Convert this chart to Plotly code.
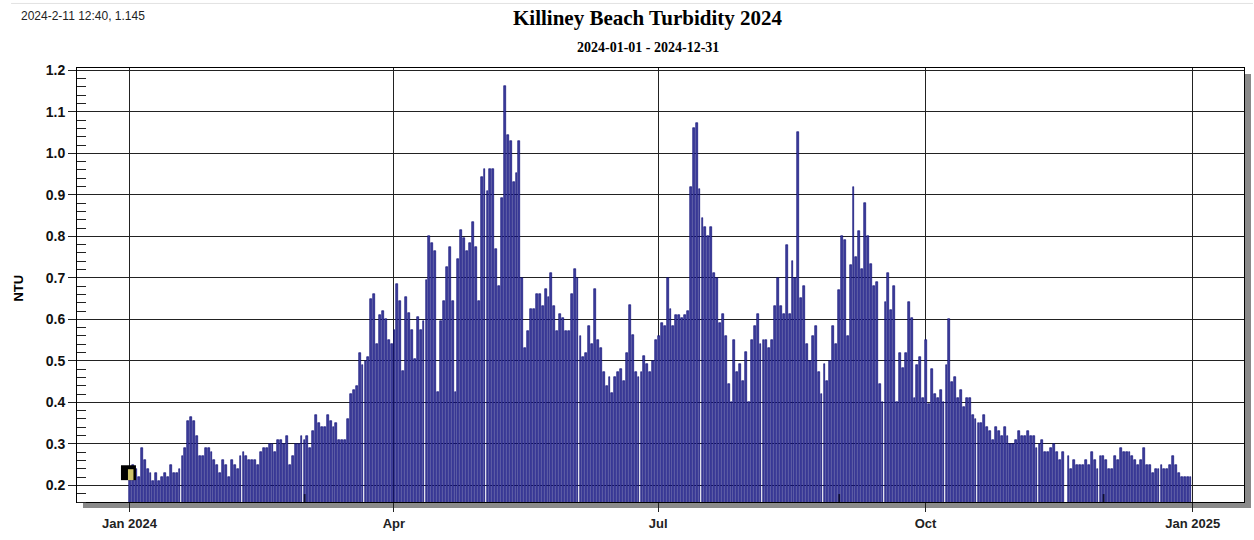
import pandas as pd
import plotly.graph_objects as go

# Daily turbidity (NTU), 2024, one list per month
jan = [0.24, 0.25, 0.24, 0.22, 0.29, 0.26, 0.24, 0.23, 0.21, 0.23, 0.21, 0.22, 0.23, 0.22, 0.25, 0.23,
       0.23, 0.24, 0.27, 0.29, 0.355, 0.365, 0.355, 0.32, 0.27, 0.27, 0.29, 0.29, 0.28, 0.26, 0.25]
feb = [0.23, 0.26, 0.25, 0.22, 0.26, 0.25, 0.24, 0.27, 0.28, 0.27, 0.26, 0.26, 0.26, 0.25, 0.28, 0.29,
       0.29, 0.30, 0.30, 0.28, 0.31, 0.31, 0.30, 0.32, 0.25, 0.27, 0.30, 0.30, 0.32]
mar = [0.31, 0.32, 0.29, 0.33, 0.37, 0.35, 0.34, 0.34, 0.37, 0.355, 0.34, 0.35, 0.31, 0.31, 0.31, 0.36,
       0.42, 0.43, 0.44, 0.52, 0.49, 0.50, 0.51, 0.65, 0.66, 0.54, 0.61, 0.62, 0.60, 0.55, 0.54]
apr = [0.575, 0.685, 0.645, 0.475, 0.655, 0.615, 0.575, 0.505, 0.605, 0.575, 0.595, 0.695, 0.80, 0.785,
       0.765, 0.425, 0.595, 0.645, 0.725, 0.775, 0.645, 0.425, 0.745, 0.815, 0.795, 0.765, 0.785, 0.835,
       0.775, 0.645]
may = [0.942, 0.962, 0.91, 0.962, 0.962, 0.77, 0.68, 0.892, 1.163, 1.043, 1.03, 0.93, 0.952, 1.03, 0.70,
       0.53, 0.572, 0.624, 0.624, 0.662, 0.662, 0.632, 0.672, 0.654, 0.712, 0.632, 0.572, 0.612, 0.604,
       0.572, 0.572]
jun = [0.662, 0.722, 0.70, 0.56, 0.51, 0.52, 0.584, 0.54, 0.672, 0.55, 0.53, 0.472, 0.44, 0.46, 0.422,
       0.46, 0.472, 0.48, 0.452, 0.52, 0.635, 0.563, 0.472, 0.46, 0.472, 0.512, 0.492, 0.472, 0.50, 0.55]
jul = [0.56, 0.592, 0.584, 0.70, 0.624, 0.584, 0.61, 0.61, 0.604, 0.61, 0.62, 0.92, 1.062, 1.072, 0.913,
       0.843, 0.823, 0.80, 0.823, 0.711, 0.70, 0.592, 0.613, 0.56, 0.444, 0.40, 0.55, 0.472, 0.492, 0.452,
       0.521]
aug = [0.40, 0.55, 0.584, 0.612, 0.54, 0.55, 0.55, 0.53, 0.55, 0.632, 0.70, 0.632, 0.612, 0.78, 0.612,
       0.74, 0.70, 1.052, 0.652, 0.68, 0.54, 0.50, 0.56, 0.584, 0.472, 0.42, 0.492, 0.452, 0.50, 0.584,
       0.541]
sep = [0.671, 0.80, 0.79, 0.56, 0.731, 0.92, 0.751, 0.812, 0.722, 0.881, 0.80, 0.733, 0.68, 0.69, 0.444,
       0.40, 0.642, 0.711, 0.622, 0.68, 0.40, 0.52, 0.482, 0.52, 0.642, 0.604, 0.41, 0.49, 0.51, 0.41]
oct_ = [0.55, 0.395, 0.48, 0.42, 0.41, 0.43, 0.40, 0.49, 0.60, 0.45, 0.46, 0.41, 0.43, 0.39, 0.41, 0.41,
        0.37, 0.36, 0.35, 0.35, 0.37, 0.34, 0.33, 0.31, 0.34, 0.33, 0.32, 0.34, 0.32, 0.30, 0.30]
nov = [0.31, 0.33, 0.32, 0.32, 0.33, 0.32, 0.32, 0.29, 0.30, 0.31, 0.28, 0.28, 0.29, 0.30, 0.28, 0.26,
       0.28, None, 0.27, 0.24, 0.26, 0.25, 0.25, 0.25, 0.26, 0.25, 0.28, 0.26, 0.24, 0.27]
dec = [0.27, 0.26, 0.24, 0.24, 0.27, 0.26, 0.29, 0.28, 0.28, 0.28, 0.27, 0.26, 0.25, 0.26, 0.29, 0.25,
       0.25, 0.23, 0.24, 0.24, 0.25, 0.24, 0.24, 0.25, 0.27, 0.25, 0.23, 0.22, 0.22, 0.22, 0.22]

tick_dates = ["2024-01-01", "2024-04-01", "2024-07-01", "2024-10-01", "2025-01-01"]
tick_labels = ["Jan 2024", "Apr", "Jul", "Oct", "Jan 2025"]
season_marks = ["2024-03-01", "2024-09-01", "2024-12-01"]

values = jan + feb + mar + apr + may + jun + jul + aug + sep + oct_ + nov + dec
dates = pd.date_range("2024-01-01", periods=len(values), freq="D") + pd.Timedelta(hours=5)

FONT = "Arial, Liberation Sans, sans-serif"
SERIF = "Times New Roman, Liberation Serif, serif"
W_PLOT = 1168.0
H_PLOT = 437.0

fig = go.Figure()
fig.add_trace(go.Bar(
    x=dates, y=values,
    width=0.64 * 86400000,
    marker=dict(color="#40409c", line=dict(color="#000070", width=0.6)),
    hoverinfo="x+y",
))

shapes = [
    # drop shadow of plot frame
    dict(type="rect", xref="paper", yref="paper",
         x0=6 / W_PLOT, x1=1 + 7 / W_PLOT, y0=-6 / H_PLOT, y1=1 - 6 / H_PLOT,
         fillcolor="#8a8a8a", line=dict(width=0), layer="below"),
    dict(type="rect", xref="paper", yref="paper", x0=0, x1=1, y0=0, y1=1,
         fillcolor="white", line=dict(width=0), layer="below"),
    # faint top rule
    dict(type="line", xref="paper", yref="paper", x0=(11 - 77) / W_PLOT, x1=1 + 9 / W_PLOT,
         y0=(505 - 3) / H_PLOT, y1=(505 - 3) / H_PLOT, line=dict(color="#e2e2e2", width=1)),
    # small cursor box at start
    dict(type="rect", xref="paper", yref="paper", x0=(121 - 77) / W_PLOT, x1=(136 - 77) / W_PLOT,
         y0=(505 - 483) / H_PLOT, y1=(505 - 468) / H_PLOT, fillcolor="black", line=dict(width=0),
         layer="above"),
    dict(type="rect", xref="paper", yref="paper", x0=(128 - 77) / W_PLOT, x1=(133.5 - 77) / W_PLOT,
         y0=(505 - 483) / H_PLOT, y1=(505 - 472) / H_PLOT, fillcolor="#cfc46a", line=dict(width=0),
         layer="above"),
]
for d in season_marks:
    t = pd.Timestamp(d)
    shapes.append(dict(type="rect", xref="x", yref="paper", x0=t, x1=t + pd.Timedelta(hours=14),
                       y0=0, y1=8 / H_PLOT, fillcolor="#101030", line=dict(width=0), layer="above"))

annotations = [
    dict(text="<b>Killiney Beach Turbidity 2024</b>", xref="paper", yref="paper",
         x=(648 - 77) / W_PLOT, y=(505 - 18) / H_PLOT, xanchor="center", yanchor="middle",
         showarrow=False, font=dict(family=SERIF, size=21, color="black")),
    dict(text="<b>2024-01-01 - 2024-12-31</b>", xref="paper", yref="paper",
         x=(648 - 77) / W_PLOT, y=(505 - 47) / H_PLOT, xanchor="center", yanchor="middle",
         showarrow=False, font=dict(family=SERIF, size=14, color="black")),
    dict(text="2024-2-11 12:40, 1.145", xref="paper", yref="paper",
         x=(19 - 77) / W_PLOT, y=(505 - 16) / H_PLOT, xanchor="left", yanchor="middle",
         showarrow=False, font=dict(family=FONT, size=12, color="#222")),
    dict(text="<b>NTU</b>", xref="paper", yref="paper", textangle=-90,
         x=(18 - 77) / W_PLOT, y=(505 - 290) / H_PLOT, xanchor="center", yanchor="middle",
         showarrow=False, font=dict(family=FONT, size=13, color="black")),
]

fig.update_layout(
    width=1254, height=540,
    margin=dict(l=77, r=9, t=68, b=35),
    paper_bgcolor="white", plot_bgcolor="white",
    showlegend=False, bargap=0,
    shapes=shapes, annotations=annotations,
    xaxis=dict(
        type="date", range=["2023-12-13 22:00", "2025-01-18 15:00"],
        tickvals=tick_dates, ticktext=[f"<b>{t}</b>" for t in tick_labels],
        ticks="outside", ticklen=9, tickwidth=1, tickcolor="#222",
        showgrid=True, gridcolor="#222", gridwidth=1,
        showline=True, linecolor="black", linewidth=1, mirror=True,
        zeroline=False, layer="above traces",
        tickfont=dict(family=FONT, size=13, color="#222"),
    ),
    yaxis=dict(
        range=[0.16, 1.2055], tick0=0.2, dtick=0.1, tickformat=".1f",
        ticks="outside", ticklen=8, tickwidth=1, tickcolor="#222",
        showgrid=True, gridcolor="#222", gridwidth=1,
        showline=True, linecolor="black", linewidth=1, mirror=True,
        zeroline=False, layer="above traces",
        tickprefix="<b>", ticksuffix="</b>",
        tickfont=dict(family=FONT, size=14, color="#111"),
        minor=dict(ticks="inside", ticklen=9, dtick=0.02, tickcolor="#222", tickwidth=1,
                   showgrid=False),
    ),
)

fig.write_html("out.html", config={"displayModeBar": False},
               post_script="document.body.style.margin='0';document.body.style.padding='0';")
